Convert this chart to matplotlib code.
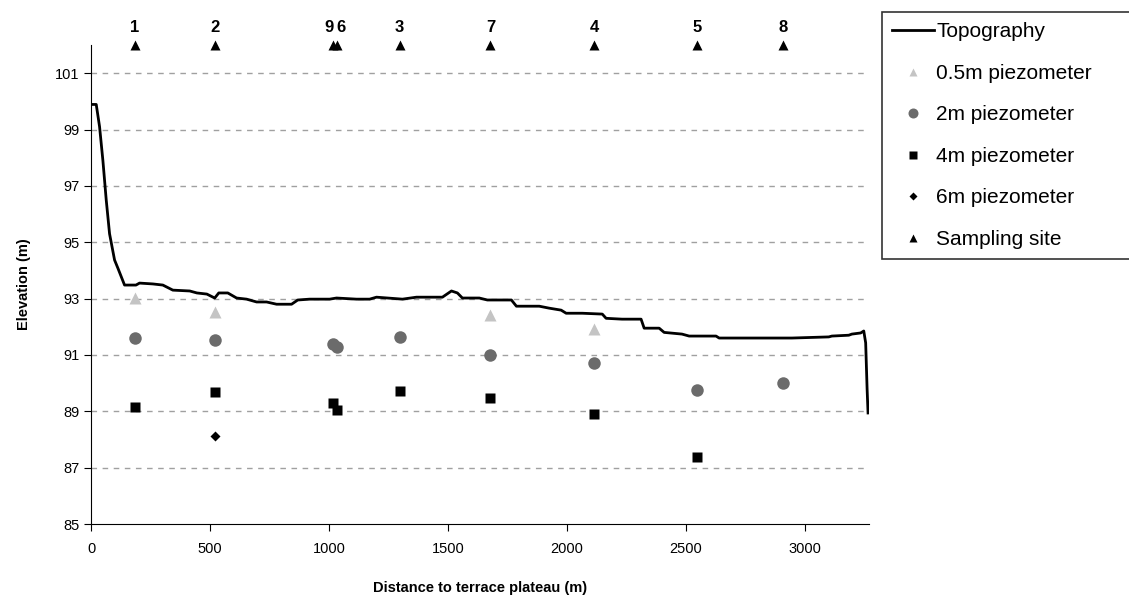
import matplotlib
matplotlib.use('Agg')
import matplotlib.pyplot as plt

plt.rcParams['font.family'] = ['Liberation Sans', 'DejaVu Sans']

# topography profile (distance m, elevation m)
topo_x = [0, 22, 36, 50, 64, 78, 99, 113, 141, 189, 204, 260, 302, 344, 415, 445, 487, 520,
          537, 575, 612, 654, 696, 738, 780, 843, 869, 919, 1003, 1032, 1116, 1171, 1200,
          1309, 1368, 1477, 1515, 1540, 1561, 1632, 1666, 1767, 1788, 1884, 1926, 1976,
          1997, 2065, 2149, 2165, 2232, 2312, 2325, 2388, 2409, 2484, 2514, 2627, 2640,
          2723, 2807, 2946, 3101, 3114, 3185, 3198, 3235, 3248, 3256, 3262, 3266]
topo_y = [99.89, 99.89, 99.1, 97.9, 96.5, 95.3, 94.37, 94.08, 93.48, 93.48, 93.55, 93.52,
          93.48, 93.3, 93.27, 93.2, 93.16, 93.02, 93.2, 93.2, 93.02, 92.98, 92.88, 92.88,
          92.8, 92.8, 92.95, 92.98, 92.98, 93.02, 92.98, 92.98, 93.05, 92.98, 93.05, 93.05,
          93.27, 93.2, 93.02, 93.02, 92.95, 92.95, 92.73, 92.73, 92.66, 92.59, 92.48, 92.48,
          92.45, 92.3, 92.27, 92.27, 91.95, 91.95, 91.8, 91.74, 91.67, 91.67, 91.6, 91.6,
          91.6, 91.6, 91.64, 91.67, 91.7, 91.74, 91.78, 91.85, 91.43, 89.8, 88.94]

# sampling sites
site_names = ['1', '2', '9', '6', '3', '7', '4', '5', '8']
site_x = [185, 520, 1016, 1035, 1297, 1679, 2115, 2547, 2908]
site_label_dx = [0, 0, -2.5, 2.5, 0, 0, 0, 0, 0]

# piezometer water levels
p05_x = [185, 520, 1679, 2115]
p05_y = [93.02, 92.52, 92.42, 91.92]
p2_x = [185, 520, 1016, 1035, 1297, 1679, 2115, 2547, 2908]
p2_y = [91.6, 91.53, 91.39, 91.28, 91.64, 91.0, 90.72, 89.76, 90.0]
p4_x = [185, 520, 1016, 1035, 1297, 1679, 2115, 2547]
p4_y = [89.16, 89.69, 89.3, 89.05, 89.72, 89.47, 88.9, 87.38]
p6_x = [520]
p6_y = [88.13]

fig = plt.figure(figsize=(11.29, 6.04), dpi=100)
ax = fig.add_axes([91/1129, 1 - 524/604, (869-91)/1129, (524-45)/604])

ax.plot(topo_x, topo_y, color='black', lw=2, label='Topography', zorder=3)
ax.plot(p05_x, p05_y, '^', color='#c4c4c4', ms=8, mec='none', label='0.5m piezometer')
ax.plot(p2_x, p2_y, 'o', color='#6b6b6b', ms=9, mec='none', label='2m piezometer')
ax.plot(p4_x, p4_y, 's', color='black', ms=7, mec='none', label='4m piezometer')
ax.plot(p6_x, p6_y, 'D', color='black', ms=5, mec='none', label='6m piezometer')
ax.plot(site_x, [102] * len(site_x), '^', color='black', ms=7, mec='none',
        clip_on=False, label='Sampling site', zorder=5)

for name, sx, dx in zip(site_names, site_x, site_label_dx):
    ax.annotate(name, (sx, 102), xytext=(dx, 7), textcoords='offset points',
                ha='center', va='bottom', fontsize=12, fontweight='bold',
                annotation_clip=False)

ax.set_xlim(0, 3270)
ax.set_ylim(85, 102)
ax.set_xticks(range(0, 3001, 500))
ax.set_yticks(range(85, 102, 2))
for yv in range(87, 102, 2):
    ax.axhline(yv, color='#a0a0a0', lw=1, ls=(0, (4, 4)), zorder=0)

ax.spines['top'].set_visible(False)
ax.spines['right'].set_visible(False)
ax.tick_params(direction='out', length=5, labelsize=10.5, colors='black')
ax.tick_params(axis='x', pad=8)

ax.set_xlabel('Distance to terrace plateau (m)', fontsize=10.5, fontweight='bold', labelpad=18)
ax.set_ylabel('Elevation (m)', fontsize=10.5, fontweight='bold', labelpad=17)

leg = fig.legend(loc='upper left', bbox_to_anchor=(882/1129, 1 - 12/604, 0.3, 0.0),
                 mode='expand', fontsize=15, frameon=True, fancybox=False,
                 edgecolor='black', borderpad=0.5, labelspacing=1.08, handlelength=2.0,
                 handletextpad=0.1, borderaxespad=0, markerscale=0.8)
leg.get_frame().set_linewidth(1.2)

fig.savefig('out.png', dpi=100)
